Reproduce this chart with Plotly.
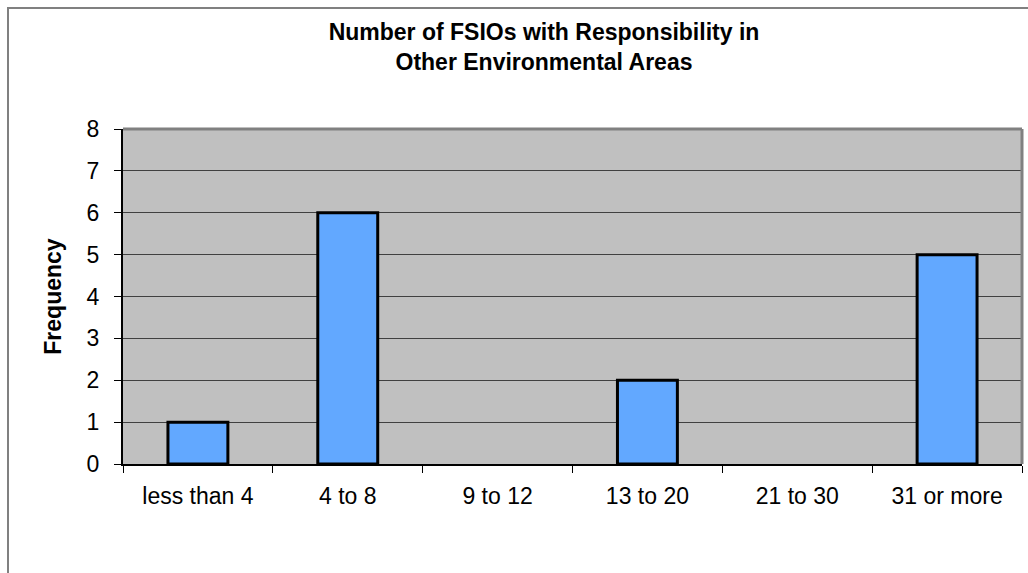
import plotly.graph_objects as go

categories = ["less than 4", "4 to 8", "9 to 12", "13 to 20", "21 to 30", "31 or more"]
frequency = [1, 6, 0, 2, 0, 5]
y_ticks = [0, 1, 2, 3, 4, 5, 6, 7, 8]

W, H = 1028, 573
L, R, T, B = 123, 6, 129, 109
pw = W - L - R
ph = H - T - B

FONT = "Arial, Liberation Sans, sans-serif"

fig = go.Figure(go.Bar(
    x=categories, y=frequency,
    marker=dict(color="#62A8FF",
                line=dict(color="black", width=[3 if v > 0 else 0 for v in frequency])),
))

fig.update_layout(
    width=W, height=H,
    margin=dict(l=L, r=R, t=T, b=B),
    paper_bgcolor="white",
    plot_bgcolor="#C0C0C0",
    bargap=0.6,
    showlegend=False,
    font=dict(family=FONT, color="black"),
    title=dict(
        text="<b>Number of FSIOs with Responsibility in<br>Other Environmental Areas</b>",
        x=544 / W, xanchor="center",
        y=1 - 40 / H, yanchor="top",
        font=dict(size=23, family=FONT, color="black"),
    ),
    xaxis=dict(
        type="category",
        showgrid=False,
        ticks="outside", tickson="boundaries", ticklen=7, tickcolor="black",
        showline=True, linecolor="black", linewidth=1.5,
        tickfont=dict(size=23),
        ticklabelstandoff=11,
    ),
    yaxis=dict(
        range=[0, 8],
        tickvals=y_ticks,
        showgrid=True, gridcolor="#404040", gridwidth=1,
        ticks="outside", ticklen=7, tickcolor="black",
        showline=True, linecolor="black", linewidth=2,
        tickfont=dict(size=23),
        ticklabelstandoff=10,
        title=dict(text="<b>Frequency</b>", font=dict(size=23), standoff=19),
        zeroline=False,
    ),
    shapes=[
        # outer chart border
        dict(type="rect", xref="paper", yref="paper",
             x0=(8 - L) / pw, x1=(1040 - L) / pw,
             y0=-(B + 20) / ph, y1=1 + (T - 8) / ph,
             line=dict(color="#808080", width=2), fillcolor="rgba(0,0,0,0)"),
        # plot area top/right border
        dict(type="line", xref="paper", yref="paper", x0=0, x1=1, y0=1, y1=1,
             line=dict(color="#808080", width=3)),
        dict(type="line", xref="paper", yref="paper", x0=1, x1=1, y0=0, y1=1,
             line=dict(color="#808080", width=3)),
    ],
)

fig.write_html("out.html", config={"displayModeBar": False},
               post_script="document.body.style.margin='0';")
